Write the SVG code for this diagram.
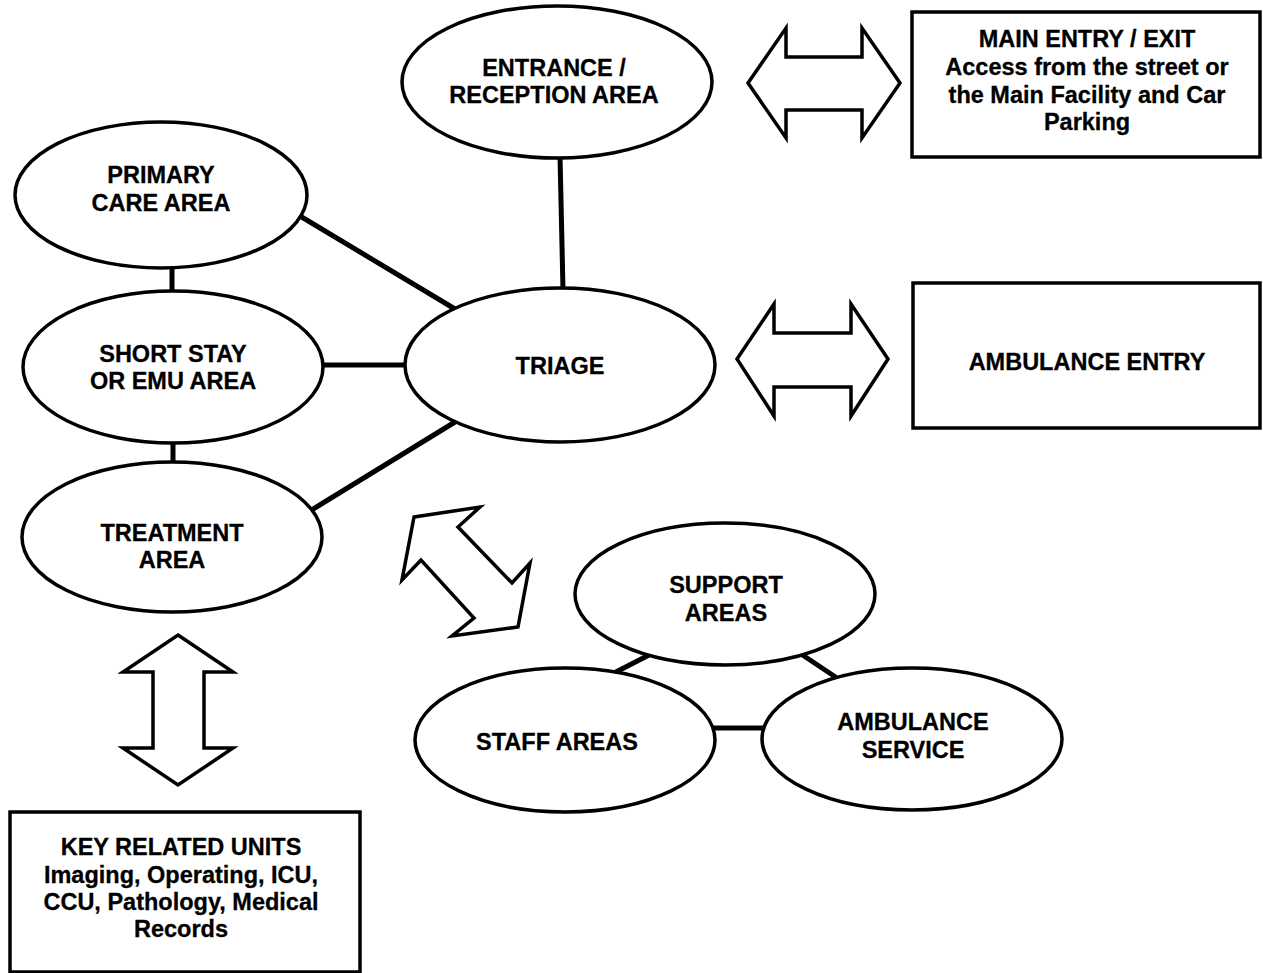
<svg xmlns="http://www.w3.org/2000/svg" width="1263" height="973" viewBox="0 0 1263 973">
<style>
.n{fill:#fff;stroke:#000;stroke-width:3.5}
.t{font-family:"Liberation Sans",Arial,sans-serif;font-weight:bold;font-size:23.5px;fill:#000;stroke:#000;stroke-width:0.3;text-anchor:middle}
.c{stroke:#000;stroke-width:5;fill:none}
.a{fill:#fff;stroke:#000;stroke-width:3.5;stroke-linejoin:miter}
</style>
<rect width="1263" height="973" fill="#fff"/>
<g id="connectors">
<line class="c" x1="560" y1="156" x2="563" y2="290"/>
<line class="c" x1="300" y1="216" x2="455" y2="309"/>
<line class="c" x1="172" y1="266" x2="172" y2="293"/>
<line class="c" x1="321" y1="365" x2="407" y2="365"/>
<line class="c" x1="173" y1="441" x2="173" y2="464"/>
<line class="c" x1="310" y1="511" x2="455" y2="422"/>
<line class="c" x1="614" y1="673" x2="649" y2="655"/>
<line class="c" x1="801" y1="654" x2="837" y2="678"/>
<line class="c" x1="712" y1="728" x2="765" y2="728"/>
</g>
<g id="arrow-main"><polygon class="a" points="748,83 786,28 786,57 862,57 862,28 900,83 862,138 862,110 786,110 786,138"/></g>
<g id="arrow-ambulance"><polygon class="a" points="737,359 774,304 774,333 851,333 851,304 888,359 851,416 851,387 774,387 774,416"/></g>
<g id="arrow-support"><polygon class="a" points="414,517 480,507 458,527 512,583 530,563 518,627 452,636 474,618 421,560 402,580"/></g>
<g id="arrow-key"><polygon class="a" points="178,635 233,672 204,672 204,748 233,748 178,785 123,748 153,748 153,672 123,672"/></g>
<g id="entrance"><ellipse class="n" cx="557" cy="82" rx="155" ry="76"/><text class="t" x="554" y="76">ENTRANCE /</text><text class="t" x="554" y="103">RECEPTION AREA</text></g>
<g id="main-entry"><rect class="n" x="912" y="12" width="348" height="145"/><text class="t" x="1087" y="47">MAIN ENTRY / EXIT</text><text class="t" x="1087" y="75">Access from the street or</text><text class="t" x="1087" y="103">the Main Facility and Car</text><text class="t" x="1087" y="130">Parking</text></g>
<g id="primary"><ellipse class="n" cx="161" cy="195" rx="146" ry="73"/><text class="t" x="161" y="183">PRIMARY</text><text class="t" x="161" y="211">CARE AREA</text></g>
<g id="short-stay"><ellipse class="n" cx="173" cy="367" rx="150" ry="76"/><text class="t" x="173" y="362">SHORT STAY</text><text class="t" x="173" y="389">OR EMU AREA</text></g>
<g id="treatment"><ellipse class="n" cx="172" cy="537" rx="150" ry="75"/><text class="t" x="172" y="541">TREATMENT</text><text class="t" x="172" y="568">AREA</text></g>
<g id="triage"><ellipse class="n" cx="560" cy="365" rx="155" ry="77"/><text class="t" x="560" y="374">TRIAGE</text></g>
<g id="ambulance-entry"><rect class="n" x="913" y="283" width="347" height="145"/><text class="t" x="1087" y="370">AMBULANCE ENTRY</text></g>
<g id="support"><ellipse class="n" cx="725" cy="594" rx="150" ry="71"/><text class="t" x="726" y="593">SUPPORT</text><text class="t" x="726" y="621">AREAS</text></g>
<g id="staff"><ellipse class="n" cx="565" cy="740" rx="150" ry="72"/><text class="t" x="557" y="750">STAFF AREAS</text></g>
<g id="ambulance-service"><ellipse class="n" cx="912" cy="739" rx="150" ry="71"/><text class="t" x="913" y="730">AMBULANCE</text><text class="t" x="913" y="758">SERVICE</text></g>
<g id="key-units"><rect class="n" x="10" y="812" width="350" height="160"/><text class="t" x="181" y="855">KEY RELATED UNITS</text><text class="t" x="181" y="883">Imaging, Operating, ICU,</text><text class="t" x="181" y="910">CCU, Pathology, Medical</text><text class="t" x="181" y="937">Records</text></g>
</svg>
